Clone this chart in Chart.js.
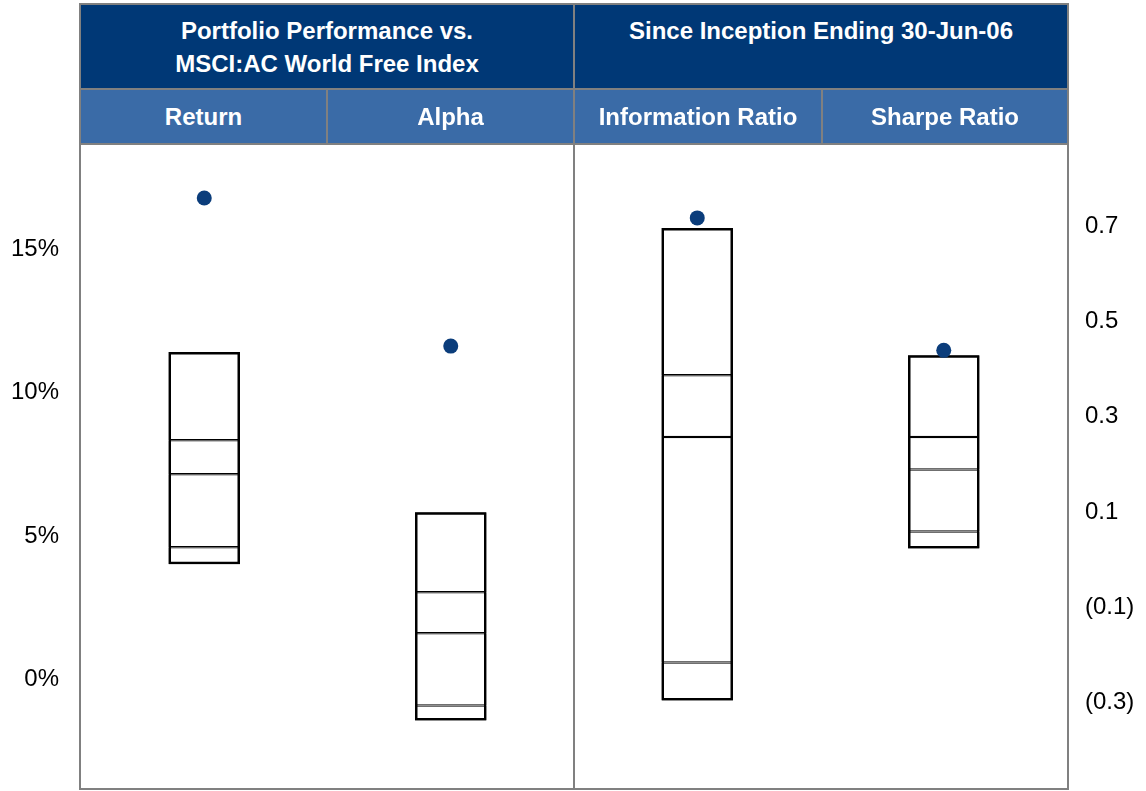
<!DOCTYPE html>
<html>
<head>
<meta charset="utf-8">
<script src="https://cdn.jsdelivr.net/npm/chart.js@4.4.1/dist/chart.umd.min.js"></script>
<style>
  html, body { margin: 0; padding: 0; background: #fff; }
  body { width: 1146px; height: 791px; position: relative; overflow: hidden;
         font-family: "Liberation Sans", Arial, sans-serif; }
  #chart { position: absolute; left: 0; top: 0; }
  .line { position: absolute; background: #808080; }
  .cell { position: absolute; color: #fff; font-weight: bold; font-size: 24px; text-align: center; }
  .head { background: #003876; line-height: 33px; padding-top: 9px; box-sizing: border-box; }
  .sub { background: #3a6ba7; line-height: 53px; }
</style>
</head>
<body>
<canvas id="chart" width="1146" height="791"></canvas>

<!-- table frame round the plot -->
<div class="cell head" style="left:81px; top:5px; width:492px; height:83px;">Portfolio Performance vs.<br>MSCI:AC World Free Index</div>
<div class="cell head" style="left:575px; top:5px; width:492px; height:83px;">Since Inception Ending 30-Jun-06</div>
<div class="cell sub" style="left:81px; top:90px; width:245px; height:53px;">Return</div>
<div class="cell sub" style="left:328px; top:90px; width:245px; height:53px;">Alpha</div>
<div class="cell sub" style="left:575px; top:90px; width:246px; height:53px;">Information Ratio</div>
<div class="cell sub" style="left:823px; top:90px; width:244px; height:53px;">Sharpe Ratio</div>

<div class="line" style="left:79px; top:3px; width:990px; height:2px;"></div>
<div class="line" style="left:79px; top:788px; width:990px; height:2px;"></div>
<div class="line" style="left:79px; top:3px; width:2px; height:787px;"></div>
<div class="line" style="left:1067px; top:3px; width:2px; height:787px;"></div>
<div class="line" style="left:573px; top:3px; width:2px; height:787px;"></div>
<div class="line" style="left:79px; top:88px; width:990px; height:2px;"></div>
<div class="line" style="left:79px; top:143px; width:990px; height:2px;"></div>
<div class="line" style="left:326px; top:88px; width:2px; height:57px;"></div>
<div class="line" style="left:821px; top:88px; width:2px; height:57px;"></div>

<script>
const categories = ['Return', 'Alpha', 'Information Ratio', 'Sharpe Ratio'];
const pctTicks = [0, 5, 10, 15];
const ratioTicks = [-0.3, -0.1, 0.1, 0.3, 0.5, 0.7];

// peer universe: 5th, 25th, 50th, 75th, 95th percentile
const returnRange = [3.94, 4.54, 7.08, 8.27, 11.34];
const alphaRange = [-1.50, -0.98, 1.54, 2.97, 5.76];
const infoRatioRange = [-0.30, -0.22, 0.253, 0.383, 0.692];
const sharpeRange = [0.019, 0.055, 0.185, 0.253, 0.425];

// the portfolio itself
const portfolioValues = [16.71, 11.55, 0.713, 0.435];

const dotColor = '#0b3d7b';

function segment(range, i) { return [range[i], range[i + 1]]; }

const boxStyle = {
  type: 'bar',
  backgroundColor: '#fff',
  borderColor: '#000',
  borderWidth: 1.25,
  borderSkipped: false,
  grouped: false,
  barPercentage: 0.29,
  categoryPercentage: 1
};

const datasets = [
  {
    type: 'line', yAxisID: 'yPct', showLine: false,
    data: [portfolioValues[0], portfolioValues[1], null, null],
    pointRadius: 7.5, pointBackgroundColor: dotColor, pointBorderWidth: 0
  },
  {
    type: 'line', yAxisID: 'yRatio', showLine: false,
    data: [null, null, portfolioValues[2], portfolioValues[3]],
    pointRadius: 7.5, pointBackgroundColor: dotColor, pointBorderWidth: 0
  },
  // outer outline of each box
  Object.assign({}, boxStyle, {
    yAxisID: 'yPct', backgroundColor: 'rgba(0,0,0,0)', borderWidth: 2.5,
    data: [[returnRange[0], returnRange[4]], [alphaRange[0], alphaRange[4]], null, null]
  }),
  Object.assign({}, boxStyle, {
    yAxisID: 'yRatio', backgroundColor: 'rgba(0,0,0,0)', borderWidth: 2.5,
    data: [null, null, [infoRatioRange[0], infoRatioRange[4]], [sharpeRange[0], sharpeRange[4]]]
  })
];

for (let i = 0; i < 4; i++) {
  datasets.push(Object.assign({}, boxStyle, {
    yAxisID: 'yPct',
    data: [segment(returnRange, i), segment(alphaRange, i), null, null]
  }));
  datasets.push(Object.assign({}, boxStyle, {
    yAxisID: 'yRatio',
    data: [null, null, segment(infoRatioRange, i), segment(sharpeRange, i)]
  }));
}

function ratioLabel(v) {
  const s = Math.abs(v).toFixed(1);
  return v < 0 ? '(' + s + ')' : s;
}

// fixed axis widths, and no extra room reserved for the end labels
function fixAxis(width) {
  return axis => {
    axis.width = width;
    axis.paddingTop = 0;
    axis.paddingBottom = 0;
  };
}

const tickFont = { family: '"Liberation Sans", Arial, sans-serif', size: 24 };

new Chart(document.getElementById('chart'), {
  data: { labels: categories, datasets: datasets },
  options: {
    responsive: false,
    animation: false,
    devicePixelRatio: 1,
    layout: { padding: { top: 145, bottom: 3, left: 0, right: 0 } },
    plugins: { legend: { display: false }, tooltip: { enabled: false } },
    scales: {
      x: {
        type: 'category',
        display: false
      },
      yPct: {
        position: 'left',
        min: -3.70, max: 18.56,
        grid: { display: false, drawTicks: false },
        border: { display: false },
        afterBuildTicks: axis => { axis.ticks = pctTicks.map(v => ({ value: v })); },
        afterFit: fixAxis(81),
        ticks: { color: '#000', font: tickFont, padding: 22, labelOffset: 2, callback: v => v + '%' }
      },
      yRatio: {
        position: 'right',
        min: -0.474, max: 0.866,
        grid: { display: false, drawTicks: false },
        border: { display: false },
        afterBuildTicks: axis => { axis.ticks = ratioTicks.map(v => ({ value: v })); },
        afterFit: fixAxis(79),
        ticks: { color: '#000', font: tickFont, padding: 18, labelOffset: 2, callback: v => ratioLabel(v) }
      }
    }
  }
});
</script>
</body>
</html>
